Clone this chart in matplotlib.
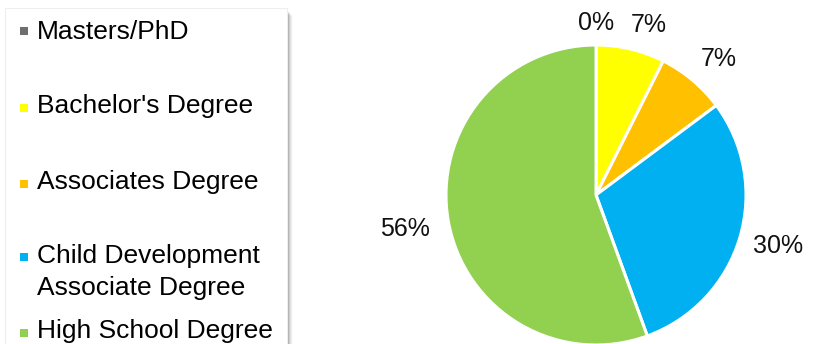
import numpy as np
import matplotlib.pyplot as plt
from matplotlib.patches import Rectangle

# counts behind the shares shown on the chart
categories = ["Masters/PhD", "Bachelor's Degree", "Associates Degree",
              "Child Development\nAssociate Degree", "High School Degree"]
counts = [0, 2, 2, 8, 15]
colors = ["#6E6E6E", "#FFFF00", "#FFC000", "#00B0F0", "#92D050"]

plt.rcParams['font.family'] = ['Liberation Sans', 'DejaVu Sans']

W, H = 818, 344
fig = plt.figure(figsize=(W / 100, H / 100), dpi=100)

# pie: center (596,195) px, radius 150 px
cx, cy, r = 596, 195, 150
ax = fig.add_axes([(cx - r) / W, (H - cy - r) / H, 2 * r / W, 2 * r / H])
wedges, texts, autotexts = ax.pie(
    counts, colors=colors, startangle=90, counterclock=False,
    autopct=lambda p: "%d%%" % round(p), pctdistance=1.2,
    wedgeprops=dict(edgecolor="white", linewidth=2.2),
    textprops=dict(fontsize=18, color="#111111"))
ax.set_xlim(-1, 1)
ax.set_ylim(-1, 1)
ax.set_aspect("equal")

# nudge the labels outward / sideways like the best-fit placement
label_dist = [1.15, 1.19, 1.22, 1.26, 1.29]
label_turn = [0, 4, 2, -1, 0]  # degrees, clockwise
for w, t, d, turn in zip(wedges, autotexts, label_dist, label_turn):
    ang = np.deg2rad((w.theta1 + w.theta2) / 2 - turn)
    t.set_position((d * np.cos(ang), d * np.sin(ang)))

# legend drawn in pixel coordinates on an overlay axes
lg = fig.add_axes([0, 0, 1, 1], zorder=-1)
lg.set_xlim(0, W)
lg.set_ylim(H, 0)
lg.axis("off")

# frame with a soft shadow on the right
for i, a in enumerate([0.12, 0.09, 0.06, 0.04, 0.02]):
    lg.add_patch(Rectangle((8 + i, 12 + i), 281, 400, facecolor="black",
                           alpha=a, edgecolor="none"))
lg.add_patch(Rectangle((5, 8), 282, 400, facecolor="white",
                       edgecolor="#eeeeee", linewidth=0.8))

square_y = [31, 107.5, 184, 257, 333]
baselines = [39, 113, 189, 263, 338]
for lab, col, sy, by in zip(categories, colors, square_y, baselines):
    lg.add_patch(Rectangle((20, sy - 4), 8, 8, facecolor=col, edgecolor="none"))
    for k, line in enumerate(lab.split("\n")):
        lg.text(37, by + 32 * k, line, fontsize=19, va="baseline",
                ha="left", color="black")

fig.savefig("out.png", dpi=100)
